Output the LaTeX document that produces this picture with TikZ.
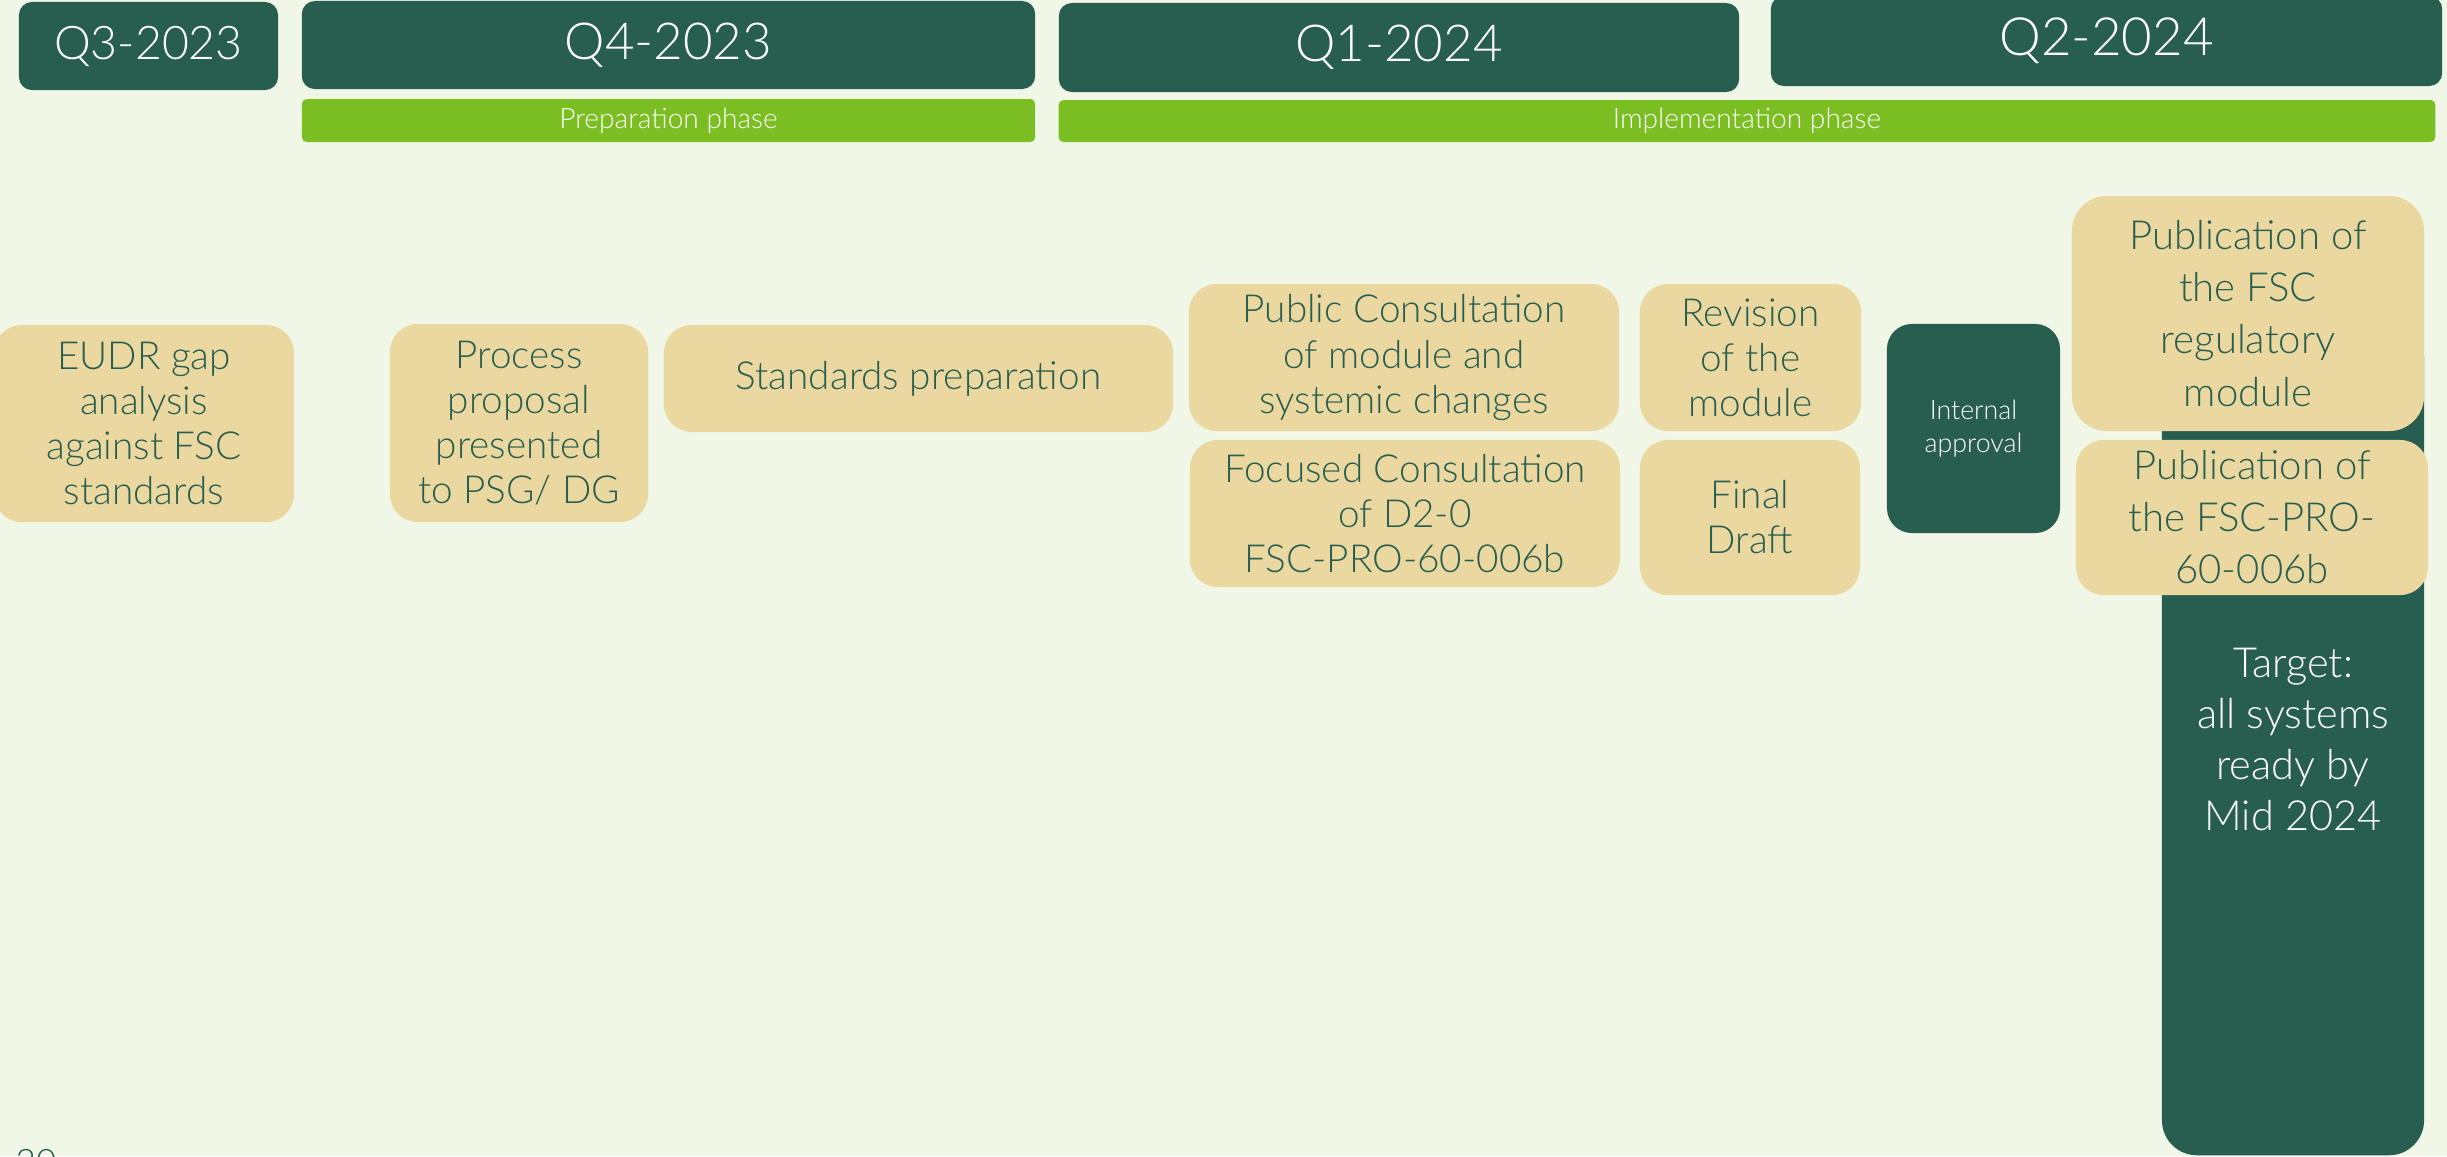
\documentclass[tikz,border=0pt]{standalone}
\usepackage{fontspec}
\setmainfont{Lato Light}
\definecolor{darkg}{HTML}{285E4F}
\definecolor{limeg}{HTML}{7ABE21}
\definecolor{beige}{HTML}{EBD8A0}
\definecolor{bgc}{HTML}{F0F7E7}
\tikzset{
  qbox/.style={fill=darkg, text=white, rounded corners=0.13cm, inner sep=0pt, align=center},
  phasebar/.style={fill=limeg, text=white, rounded corners=0.05cm, inner sep=0pt, align=center, font=\fontsize{8}{9}\selectfont},
  taskbox/.style={fill=beige, text=darkg, rounded corners=0.28cm, inner sep=0pt, align=center, font=\fontsize{11}{12.8}\selectfont},
  pubbox/.style={taskbox, font=\fontsize{11.4}{14.8}\selectfont},
  darkbox/.style={fill=darkg, text=white, rounded corners=0.25cm, inner sep=0pt, align=center}
}
\begin{document}
\begin{tikzpicture}[x=0.01cm, y=-0.01cm]
\fill[bgc] (0,0) rectangle (2447,1156);
\useasboundingbox (0,0) rectangle (2447,1156);
% quarter headers
\node[qbox, minimum width=2.59cm, minimum height=0.88cm, font=\fontsize{13.2}{15}\selectfont] (q3) at (148.5,46) {Q3-2023};
\node[qbox, minimum width=7.33cm, minimum height=0.88cm, font=\fontsize{14.5}{16}\selectfont] (q4) at (668.5,45) {Q4-2023};
\node[qbox, minimum width=6.80cm, minimum height=0.89cm, font=\fontsize{14.5}{16}\selectfont] (q1) at (1399,47.5) {Q1-2024};
\node[qbox, minimum width=6.71cm, minimum height=0.90cm, font=\fontsize{15}{17}\selectfont] (q2) at (2106.5,41) {Q2-2024};
% phases
\node[phasebar, minimum width=7.33cm, minimum height=0.43cm] (prep) at (668.5,120.5) {Preparation phase};
\node[phasebar, minimum width=13.76cm, minimum height=0.42cm] (impl) at (1747,121) {Implementation phase};
% target column
\node[darkbox, rounded corners=0.35cm, minimum width=2.62cm, minimum height=8.32cm, font=\fontsize{11.8}{14.5}\selectfont] (target) at (2293,739) {Target:\\all systems\\ready by\\Mid 2024};
% tasks
\node[taskbox, minimum width=3.00cm, minimum height=1.97cm] (eudr) at (144,423.5) {EUDR gap\\analysis\\against FSC\\standards};
\node[taskbox, minimum width=2.58cm, minimum height=1.98cm] (proc) at (519,423) {Process\\proposal\\presented\\to PSG/ DG};
\node[taskbox, minimum width=5.09cm, minimum height=1.07cm] (std) at (918.5,378.5) {Standards preparation};
\node[taskbox, minimum width=4.30cm, minimum height=1.47cm] (pub) at (1404,357.5) {Public Consultation\\of module and\\systemic changes};
\node[taskbox, minimum width=4.30cm, minimum height=1.47cm] (foc) at (1405,513.5) {Focused Consultation\\of D2-0\\FSC-PRO-60-006b};
\node[taskbox, minimum width=2.21cm, minimum height=1.47cm] (rev) at (1750.5,357.5) {Revision\\of the\\module};
\node[taskbox, minimum width=2.20cm, minimum height=1.55cm] (fin) at (1750,517.5) {Final\\Draft};
\node[darkbox, minimum width=1.73cm, minimum height=2.09cm, font=\fontsize{7.6}{9.4}\selectfont] (intap) at (1973.5,428.5) {Internal\\approval};
\node[pubbox, rounded corners=0.35cm, minimum width=3.52cm, minimum height=2.35cm] (pubreg) at (2248,313.5) {Publication of\\the FSC\\regulatory\\module};
\node[pubbox, minimum width=3.52cm, minimum height=1.55cm] (pubpro) at (2252,517.5) {Publication of\\the FSC-PRO-\\60-006b};
% page number (cut by page edge, as in the reference)
\node[anchor=north west, inner sep=0pt, text=darkg, font=\fontsize{10}{12}\selectfont] (pgno) at (15,1149) {20};
\end{tikzpicture}
\end{document}
